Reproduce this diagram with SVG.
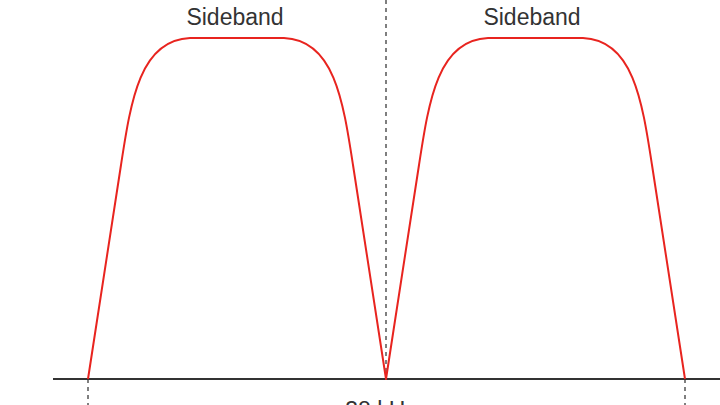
<svg xmlns="http://www.w3.org/2000/svg" width="720" height="405" viewBox="0 0 720 405">
<style>
.lbl{font-family:"Liberation Sans",Arial,sans-serif;font-size:23px;fill:#333;text-anchor:middle}
.guide{stroke:#555;stroke-width:1.5;stroke-dasharray:4 4;fill:none}
.curve{stroke:#e8241f;stroke-width:2;fill:none;stroke-linejoin:round}
</style>
<rect width="720" height="405" fill="#fff"/>
<g id="guides">
<line class="guide" x1="386" y1="0" x2="386" y2="379" stroke-dasharray="3 5"/>
<line class="guide" x1="88" y1="379" x2="88" y2="405"/>
<line class="guide" x1="685" y1="379" x2="685" y2="405"/>
</g>
<g id="axis">
<line x1="53" y1="379" x2="720" y2="379" stroke="#333" stroke-width="2"/>
</g>
<g id="spectrum">
<path class="curve" d="M88,379 L121,165 C131,100 140,40 190,38 L284,38 C334,40 343,100 353,165 L386,379 L419,165 C429,100 438,40 488,38 L583,38 C633,40 642,100 652,165 L685,379"/>
</g>
<g id="label-left"><text class="lbl" x="235" y="25">Sideband</text></g>
<g id="label-right"><text class="lbl" x="532" y="25">Sideband</text></g>
<g id="label-bottom"><text class="lbl" x="381" y="418">38 kHz</text></g>
</svg>
